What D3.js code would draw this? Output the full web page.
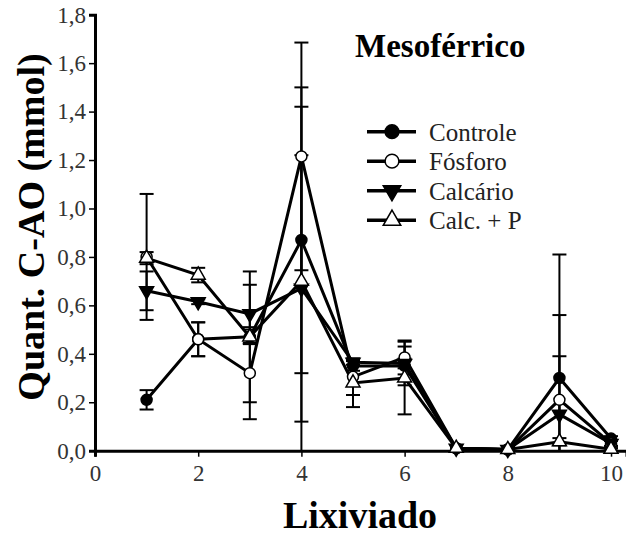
<!DOCTYPE html>
<html>
<head>
<meta charset="utf-8">
<script src="https://cdn.jsdelivr.net/npm/d3@7"></script>
<style>
  body { margin: 0; background: #fff; }
  svg text { font-family: "Liberation Serif", "Times New Roman", serif !important; }
</style>
</head>
<body>
<svg></svg>
<script>
const lixiviado = [1, 2, 3, 4, 5, 6, 7, 8, 9, 10];
const controle = [0.21, 0.46, 0.47, 0.87, 0.35, 0.35, 0.01, 0.005, 0.30, 0.05];
const fosforo = [0.80, 0.46, 0.32, 1.215, 0.305, 0.385, 0.01, 0.005, 0.21, 0.03];
const calcario = [0.66, 0.615, 0.565, 0.67, 0.365, 0.36, 0.01, 0.005, 0.15, 0.03];
const calcP = [0.795, 0.725, 0.47, 0.70, 0.28, 0.30, 0.01, 0.005, 0.037, 0.006];
const controleErr = [0.04, 0.07, 0.27, 0.55, 0.02, 0.08, 0, 0, 0.51, 0.01];
const fosforoErr = [0.26, 0.07, 0.19, 0.47, 0.075, 0.07, 0, 0, 0.35, 0.01];
const calcarioErr = [0.08, 0.01, 0.12, 0.55, 0.01, 0.02, 0, 0, 0.24, 0.01];
const calcPErr = [0.025, 0.03, 0.03, 0.80, 0.1, 0.15, 0, 0, 0.015, 0.005];
const xTicks = [0, 2, 4, 6, 8, 10];
const yTicks = [0, 0.2, 0.4, 0.6, 0.8, 1.0, 1.2, 1.4, 1.6, 1.8];

const width = 626;
const height = 535;

const svg = d3.select("svg").attr("width", width).attr("height", height);

const x = d3.scaleLinear().domain([0, 10.3]).range([95, 626.5]);
const y = d3.scaleLinear().domain([0, 1.8]).range([450.7, 14.7]);

const series = [
  { name: "Controle", values: controle, err: controleErr, shape: "circle", fill: "#000" },
  { name: "Fósforo", values: fosforo, err: fosforoErr, shape: "circle", fill: "#fff" },
  { name: "Calcário", values: calcario, err: calcarioErr, shape: "down", fill: "#000" },
  { name: "Calc. + P", values: calcP, err: calcPErr, shape: "up", fill: "#fff" }
];

const fmt = (d) => d3.format(".1f")(d).replace(".", ",");

// error bars
series.forEach((s) => {
  const g = svg.append("g").attr("stroke", "#000").attr("stroke-width", 2);
  lixiviado.forEach((lx, i) => {
    const e = s.err[i];
    if (!e) return;
    const v = s.values[i];
    const hi = v + e;
    const lo = v - e;
    g.append("line")
      .attr("x1", x(lx)).attr("x2", x(lx))
      .attr("y1", y(hi)).attr("y2", y(Math.max(lo, 0)));
    g.append("line")
      .attr("x1", x(lx) - 7).attr("x2", x(lx) + 7)
      .attr("y1", y(hi)).attr("y2", y(hi));
    if (lo > 0) {
      g.append("line")
        .attr("x1", x(lx) - 7).attr("x2", x(lx) + 7)
        .attr("y1", y(lo)).attr("y2", y(lo));
    }
  });
});

// axes
const yAxis = svg.append("g")
  .attr("transform", `translate(${x(0)},0)`)
  .call(d3.axisLeft(y).tickValues(yTicks).tickFormat(fmt).tickSize(6).tickPadding(3));
const xAxis = svg.append("g")
  .attr("transform", `translate(0,${y(0)})`)
  .call(d3.axisBottom(x).tickValues(xTicks).tickFormat(d3.format("d")).tickSize(6).tickPadding(8));

[yAxis, xAxis].forEach((a) => {
  a.attr("font-family", null);
  a.select(".domain").attr("stroke", "#000").attr("stroke-width", 3);
  a.selectAll(".tick line").attr("stroke", "#000").attr("stroke-width", 1.5);
  a.selectAll(".tick text")
    .attr("font-size", 23)
    .attr("fill", "#333");
});

// lines
const line = d3.line().x((d) => x(d[0])).y((d) => y(d[1]));
series.forEach((s) => {
  svg.append("path")
    .datum(lixiviado.map((lx, i) => [lx, s.values[i]]))
    .attr("d", line)
    .attr("fill", "none")
    .attr("stroke", "#000")
    .attr("stroke-width", 3);
});

function marker(g, s, cx, cy, scale) {
  if (s.shape === "circle") {
    g.append("circle")
      .attr("cx", cx).attr("cy", cy).attr("r", 5.5 * scale)
      .attr("fill", s.fill).attr("stroke", "#000").attr("stroke-width", 1.5);
  } else {
    g.append("path")
      .attr("d", d3.symbol().type(d3.symbolTriangle).size(85 * scale * scale)())
      .attr("transform", `translate(${cx},${cy}) rotate(${s.shape === "down" ? 180 : 0})`)
      .attr("fill", s.fill).attr("stroke", "#000").attr("stroke-width", 1.5);
  }
}

// markers
series.forEach((s) => {
  const g = svg.append("g");
  lixiviado.forEach((lx, i) => marker(g, s, x(lx), y(s.values[i]), 1));
});

// legend
const legend = svg.append("g");
series.forEach((s, i) => {
  const ly = 131.7 + i * 29.5;
  legend.append("line")
    .attr("x1", 367).attr("x2", 416).attr("y1", ly).attr("y2", ly)
    .attr("stroke", "#000").attr("stroke-width", 3.5);
  marker(legend, s, 392, ly, 1.25);
  legend.append("text")
    .attr("x", 429).attr("y", ly + 9)
    .attr("font-size", 25)
    .attr("fill", "#222")
    .text(s.name);
});

// titles
svg.append("text")
  .attr("x", 355).attr("y", 57)
  .attr("font-size", 33).attr("font-weight", "bold")
  .text("Mesoférrico");

svg.append("text")
  .attr("x", 360).attr("y", 528)
  .attr("text-anchor", "middle")
  .attr("font-size", 38).attr("font-weight", "bold")
  .text("Lixiviado");

svg.append("text")
  .attr("transform", "translate(44,227) rotate(-90)")
  .attr("text-anchor", "middle")
  .attr("font-size", 38).attr("font-weight", "bold")
  .text("Quant. C-AO (mmol)");
</script>
</body>
</html>
